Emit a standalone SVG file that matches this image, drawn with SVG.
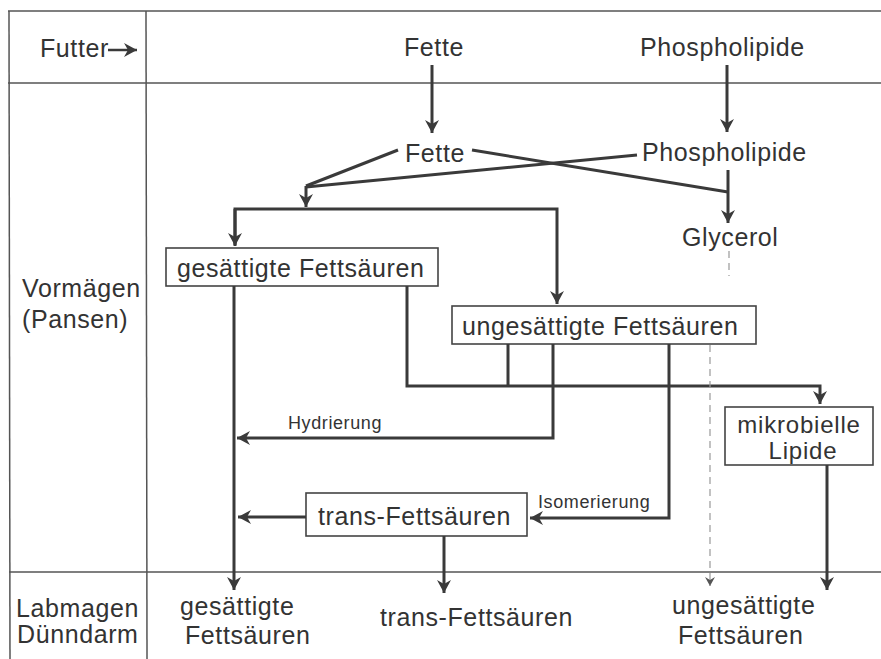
<svg xmlns="http://www.w3.org/2000/svg" width="881" height="659" viewBox="0 0 881 659">
<defs>
<marker id="ah" markerUnits="userSpaceOnUse" markerWidth="16" markerHeight="16" viewBox="-14 -8 16 16" refX="0" refY="0" orient="auto">
<path d="M0,0 L-13,-7 L-9,0 L-13,7 Z" fill="#3a3a3a"/>
</marker>
<marker id="ahs" markerUnits="userSpaceOnUse" markerWidth="12" markerHeight="12" viewBox="-10 -6 12 12" refX="0" refY="0" orient="auto">
<path d="M0,0 L-9,-5 L-6,0 L-9,5 Z" fill="#555"/>
</marker>
</defs>
<style>
.t{font-family:"Liberation Sans",Arial,sans-serif;font-size:25px;fill:#333;letter-spacing:0.6px}
.m{font-family:"Liberation Sans",Arial,sans-serif;font-size:24px;fill:#333;letter-spacing:0.8px}
.s{font-family:"Liberation Sans",Arial,sans-serif;font-size:18px;fill:#333;letter-spacing:0.6px}
.grid{stroke:#555;stroke-width:1.5;fill:none}
.box{fill:#fff;stroke:#444;stroke-width:1.6}
.c{stroke:#3a3a3a;stroke-width:3;fill:none;stroke-linejoin:miter}
.a{marker-end:url(#ah)}
.d{stroke:#999;stroke-width:1.2;stroke-dasharray:7 5;fill:none}
</style>
<rect width="881" height="659" fill="#fff"/>
<g id="table">
<line class="grid" x1="8" y1="11" x2="881" y2="11"/>
<line class="grid" x1="8" y1="83" x2="881" y2="83"/>
<line class="grid" x1="9" y1="572" x2="881" y2="572"/>
<line class="grid" x1="9" y1="11" x2="10" y2="659"/>
<line class="grid" x1="146" y1="11" x2="147" y2="659"/>
</g>
<g id="row-labels">
<text class="t" x="40" y="57">Futter</text>
<line class="c" x1="108" y1="50" x2="137" y2="50" style="stroke-width:2.5" marker-end="url(#ah)"/>
<text class="t" x="22" y="297">Vormägen</text>
<text class="t" x="22" y="328">(Pansen)</text>
<text class="t" x="16" y="617">Labmagen</text>
<text class="t" x="17" y="643">Dünndarm</text>
</g>
<g id="futter-fette"><text class="t" x="404" y="56">Fette</text></g>
<g id="futter-phospholipide"><text class="t" x="640" y="56">Phospholipide</text></g>
<g id="pansen-fette"><text class="t" x="405" y="162">Fette</text></g>
<g id="pansen-phospholipide"><text class="t" x="642" y="161">Phospholipide</text></g>
<g id="glycerol"><text class="t" x="682" y="246">Glycerol</text></g>
<g id="gesaettigte">
<rect class="box" x="166" y="248" width="272" height="38"/>
<text class="t" x="177" y="277">gesättigte Fettsäuren</text>
</g>
<g id="ungesaettigte">
<rect class="box" x="452" y="306" width="304" height="38"/>
<text class="t" x="462" y="335">ungesättigte Fettsäuren</text>
</g>
<g id="mikrobielle">
<rect class="box" x="725" y="407" width="148" height="58"/>
<text class="m" x="799" y="433" text-anchor="middle">mikrobielle</text>
<text class="m" x="803" y="459" text-anchor="middle">Lipide</text>
</g>
<g id="trans">
<rect class="box" x="306" y="493" width="221" height="43"/>
<text class="t" x="318" y="525">trans-Fettsäuren</text>
</g>
<g id="out-gesaettigte">
<text class="t" x="180" y="615">gesättigte</text>
<text class="t" x="185" y="644">Fettsäuren</text>
</g>
<g id="out-trans"><text class="t" x="380" y="626">trans-Fettsäuren</text></g>
<g id="out-ungesaettigte">
<text class="t" x="672" y="614">ungesättigte</text>
<text class="t" x="678" y="644">Fettsäuren</text>
</g>
<g id="connectors">
<line class="c a" x1="432" y1="65" x2="432" y2="133"/>
<line class="c a" x1="727" y1="65" x2="727" y2="132"/>
<polyline class="c" points="398,150 306,186"/>
<polyline class="c" points="637,155 306,187"/>
<line class="c a" x1="306" y1="186" x2="306" y2="207"/>
<polyline class="c" points="472,150 728,192"/>
<line class="c a" x1="728" y1="170" x2="728" y2="223"/>
<polyline class="c a" points="235,245 235,209 557,209 557,304"/>
<line class="c a" x1="235" y1="209" x2="235" y2="246"/>
<line class="c a" x1="234" y1="286" x2="234" y2="590"/>
<polyline class="c a" points="407,286 407,386 820,386 820,404"/>
<line class="c" x1="508" y1="344" x2="508" y2="386"/>
<polyline class="c a" points="553,344 553,438 237,438"/>
<polyline class="c a" points="669,344 669,518 530,518"/>
<line class="c a" x1="306" y1="517" x2="238" y2="517"/>
<line class="c a" x1="444" y1="536" x2="444" y2="593"/>
<line class="c a" x1="827" y1="465" x2="827" y2="590"/>
<line class="d" x1="729" y1="251" x2="729" y2="276"/>
<line class="d" x1="710" y1="345" x2="710" y2="586" marker-end="url(#ahs)"/>
<text class="s" x="288" y="429">Hydrierung</text>
<text class="s" x="538" y="508">Isomerierung</text>
</g>
</svg>
